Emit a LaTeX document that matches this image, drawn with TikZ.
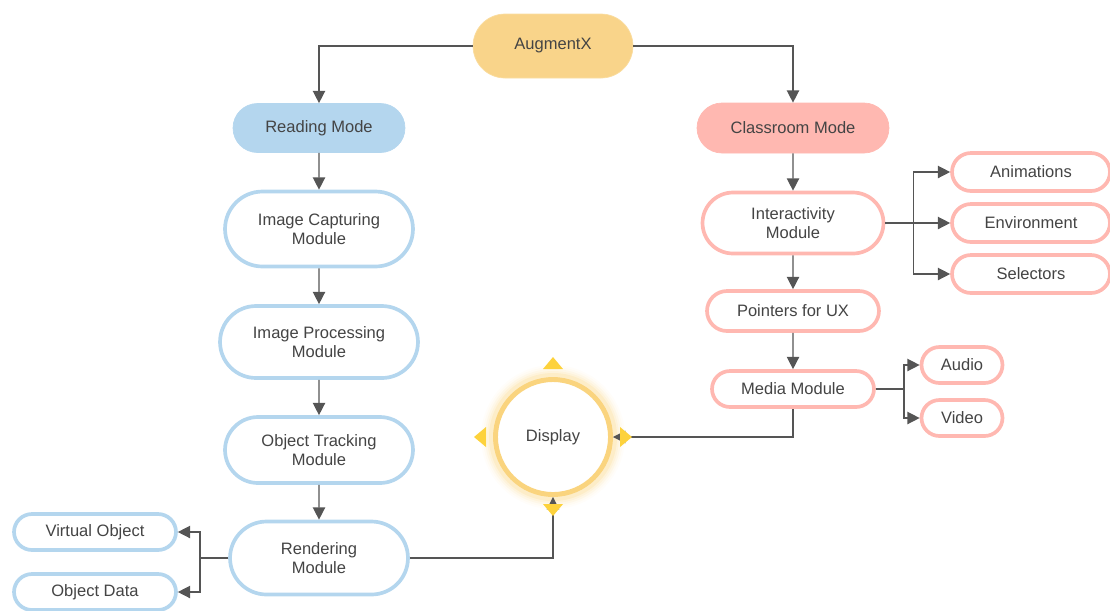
\documentclass[tikz,border=0pt]{standalone}
\usepackage{fontspec}
\setmainfont{Liberation Sans}
\usetikzlibrary{shapes.misc,arrows.meta}
\definecolor{bluebd}{HTML}{B4D6EE}
\definecolor{pinkbd}{HTML}{FFB8B1}
\definecolor{yellowf}{HTML}{F9D48A}
\definecolor{glowc}{HTML}{FAD47E}
\definecolor{trigc}{HTML}{FDD23C}
\definecolor{txtgray}{HTML}{444444}
\definecolor{linegray}{HTML}{555555}

\begin{document}
\begin{tikzpicture}[x=0.02cm,y=-0.02cm,
  box/.style={rounded rectangle, line width=2.1pt, align=center, text=txtgray,
    font=\fontsize{9.4}{10.8}\selectfont, inner sep=0pt},
  bluebox/.style={box, draw=bluebd, fill=white},
  pinkbox/.style={box, draw=pinkbd, fill=white},
  link/.style={draw=linegray, line width=0.8pt, -{Triangle[length=7pt,width=7pt]}}]
  \useasboundingbox (0,0) rectangle (1110,610);

  % top and the two modes
  \node[box, fill=yellowf, draw=yellowf!80!white, line width=0.4pt, minimum width=3.2cm, minimum height=1.28cm] at (553,46) (aug) {AugmentX};
  \node[box, fill=bluebd, draw=bluebd, line width=0.4pt, minimum width=3.44cm, minimum height=0.98cm] at (319,128) (read) {Reading Mode};
  \node[box, fill=pinkbd, draw=pinkbd, line width=0.4pt, minimum width=3.84cm, minimum height=1.0cm] at (793,128) (class) {Classroom Mode};

  % reading mode column
  \node[bluebox, minimum width=3.76cm, minimum height=1.5cm] at (319,229) (cap) {Image Capturing\\Module};
  \node[bluebox, minimum width=3.96cm, minimum height=1.44cm] at (319,342) (proc) {Image Processing\\Module};
  \node[bluebox, minimum width=3.76cm, minimum height=1.32cm] at (319,450) (track) {Object Tracking\\Module};
  \node[bluebox, minimum width=3.56cm, minimum height=1.46cm] at (319,558) (rend) {Rendering\\Module};
  \node[bluebox, minimum width=3.24cm, minimum height=0.72cm] at (95,532) (virt) {Virtual Object};
  \node[bluebox, minimum width=3.24cm, minimum height=0.72cm] at (95,592) (odata) {Object Data};

  % classroom mode column
  \node[pinkbox, minimum width=3.62cm, minimum height=1.22cm] at (793,223) (inter) {Interactivity\\Module};
  \node[pinkbox, minimum width=3.44cm, minimum height=0.8cm] at (793,311) (point) {Pointers for UX};
  \node[pinkbox, minimum width=3.24cm, minimum height=0.72cm] at (793,389) (media) {Media Module};
  \node[pinkbox, minimum width=3.16cm, minimum height=0.76cm] at (1031,172) (anim) {Animations};
  \node[pinkbox, minimum width=3.16cm, minimum height=0.76cm] at (1031,223) (env) {Environment};
  \node[pinkbox, minimum width=3.16cm, minimum height=0.76cm] at (1031,274) (sel) {Selectors};
  \node[pinkbox, minimum width=1.62cm, minimum height=0.72cm] at (962,365) (audio) {Audio};
  \node[pinkbox, minimum width=1.62cm, minimum height=0.72cm] at (962,418) (video) {Video};

  % display with its glow
  \coordinate (dc) at (553,437);
  \foreach \r/\o in {72/0.04,70/0.06,68/0.09,66/0.13,64/0.2}
    \fill[glowc, opacity=\o] (dc) circle (\r);
  \node[circle, draw=glowc, line width=2.8pt, fill=white, minimum size=2.3cm, text=txtgray,
    font=\fontsize{9.4}{10.8}\selectfont] at (dc) (disp) {Display};

  \draw[link] (aug.west) -| (read.north);
  \draw[link] (aug.east) -| (class.north);
  \draw[link] (read) -- (cap);
  \draw[link] (cap) -- (proc);
  \draw[link] (proc) -- (track);
  \draw[link] (track) -- (rend);
  \draw[link] (rend.west) -- ++(-28,0) |- (virt.east);
  \draw[link] (rend.west) -- ++(-28,0) |- (odata.east);
  \draw[link] (rend.east) -| (disp.south);
  \draw[link] (class) -- (inter);
  \draw[link] (inter) -- (point);
  \draw[link] (point) -- (media);
  \draw[link] (inter.east) -- ++(28,0) |- (anim.west);
  \draw[link] (inter.east) -- (env.west);
  \draw[link] (inter.east) -- ++(28,0) |- (sel.west);
  \draw[link] (media.east) -- ++(28,0) |- (audio.west);
  \draw[link] (media.east) -- ++(28,0) |- (video.west);
  \draw[link] (media.south) |- (disp.east);

  % handles round the display
  \fill[trigc] (543,369) -- (563,369) -- (553,357) -- cycle;
  \fill[trigc] (486,427) -- (486,447) -- (474,437) -- cycle;
  \fill[trigc] (620,427) -- (620,447) -- (632,437) -- cycle;
  \fill[trigc] (543,504) -- (563,504) -- (553,516) -- cycle;
\end{tikzpicture}
\end{document}
